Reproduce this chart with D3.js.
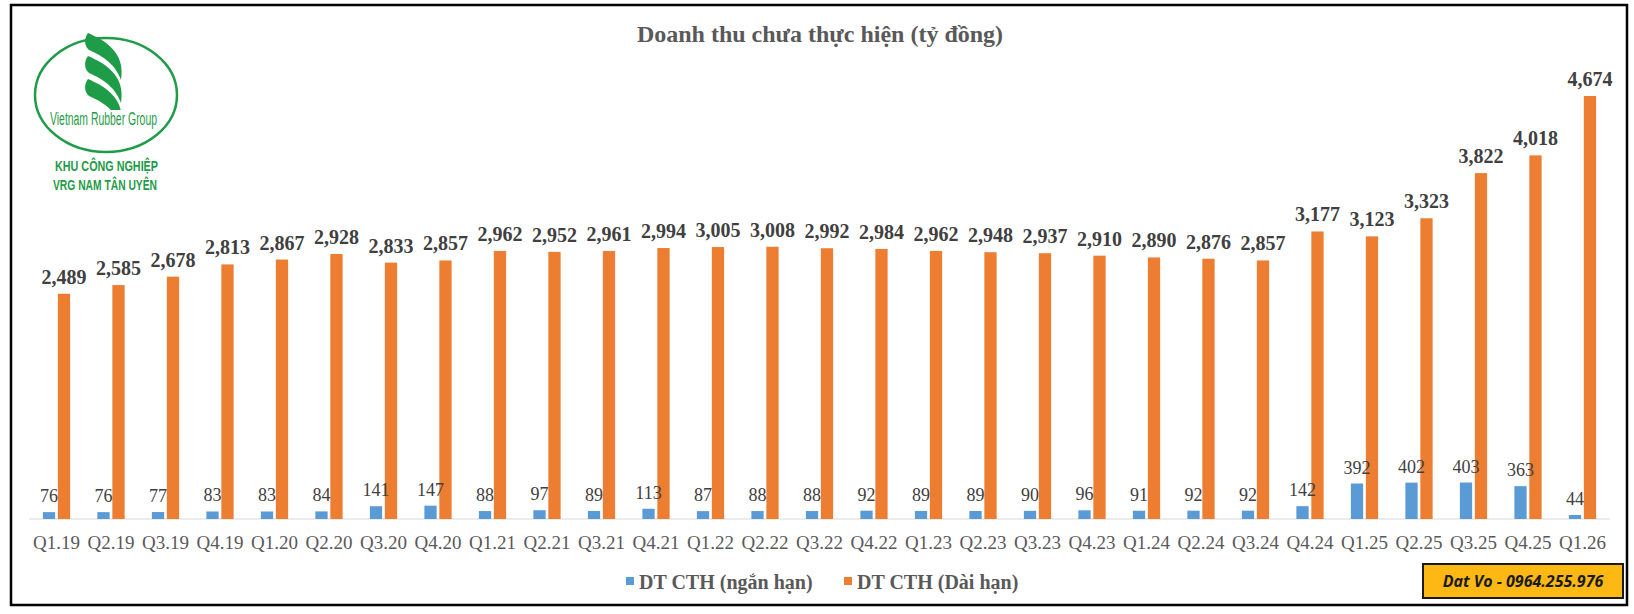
<!DOCTYPE html>
<html>
<head>
<meta charset="utf-8">
<script src="https://cdn.jsdelivr.net/npm/d3@7"></script>
<style>
  html, body { margin: 0; padding: 0; background: #fff; }
  svg { display: block; }
</style>
</head>
<body>
<svg id="chart" width="1634" height="614"></svg>
<script>
// ---- Data ----
const categories = ["Q1.19","Q2.19","Q3.19","Q4.19","Q1.20","Q2.20","Q3.20","Q4.20",
  "Q1.21","Q2.21","Q3.21","Q4.21","Q1.22","Q2.22","Q3.22","Q4.22",
  "Q1.23","Q2.23","Q3.23","Q4.23","Q1.24","Q2.24","Q3.24","Q4.24",
  "Q1.25","Q2.25","Q3.25","Q4.25","Q1.26"];
const shortTerm = [76,76,77,83,83,84,141,147,88,97,89,113,87,88,88,92,
  89,89,90,96,91,92,92,142,392,402,403,363,44];
const longTerm = [2489,2585,2678,2813,2867,2928,2833,2857,2962,2952,2961,2994,3005,3008,2992,2984,
  2962,2948,2937,2910,2890,2876,2857,3177,3123,3323,3822,4018,4674];
const seriesNames = ["DT CTH (ngắn hạn)", "DT CTH (Dài hạn)"];
const seriesColors = ["#5B9BD5", "#ED7D31"];
const titleText = "Doanh thu chưa thực hiện (tỷ đồng)";
const yMax = 5000;

// ---- Layout ----
const svg = d3.select("#chart");
const serif = "'Liberation Serif', 'Times New Roman', serif";
const plot = { left: 29.25, right: 1609.75, top: 66.5, bottom: 519 };

// outer border
svg.append("rect").attr("x", 11).attr("y", 5).attr("width", 1616).attr("height", 600)
  .attr("fill", "#fff").attr("stroke", "#000").attr("stroke-width", 2.5);

// title
svg.append("text").attr("x", 820).attr("y", 42).attr("text-anchor", "middle")
  .attr("font-family", serif).attr("font-weight", "bold").attr("font-size", 24)
  .attr("fill", "#595959").text(titleText);

// scales
const x0 = d3.scaleBand().domain(categories).range([plot.left, plot.right])
  .paddingInner(0.5).paddingOuter(0.25);
const x1 = d3.scaleBand().domain([0, 1]).range([0, x0.bandwidth()]).paddingInner(0.18);
const y = d3.scaleLinear().domain([0, yMax]).range([plot.bottom, plot.top]);

const rows = categories.map((c, i) => ({ cat: c, vals: [shortTerm[i], longTerm[i]] }));

// axis line
svg.append("line").attr("x1", plot.left).attr("x2", plot.right)
  .attr("y1", plot.bottom).attr("y2", plot.bottom)
  .attr("stroke", "#D9D9D9").attr("stroke-width", 1);

// bars
const groups = svg.append("g").selectAll("g").data(rows).join("g")
  .attr("transform", d => `translate(${x0(d.cat)},0)`);

groups.selectAll("rect").data(d => d.vals.map((v, s) => ({ v, s }))).join("rect")
  .attr("x", d => x1(d.s)).attr("width", x1.bandwidth())
  .attr("y", d => y(d.v)).attr("height", d => y(0) - y(d.v))
  .attr("fill", d => seriesColors[d.s]);

// value labels
groups.selectAll("text").data(d => d.vals.map((v, s) => ({ v, s }))).join("text")
  .attr("x", d => x1(d.s) + x1.bandwidth() / 2)
  .attr("y", d => y(d.v) - 10)
  .attr("text-anchor", "middle")
  .attr("font-family", serif)
  .attr("font-weight", d => d.s === 1 ? "bold" : "normal")
  .attr("font-size", d => d.s === 1 ? 20 : 18)
  .attr("fill", "#404040")
  .text(d => d3.format(",")(d.v));

// x axis labels
const xAxis = d3.axisBottom(x0).tickSize(0).tickPadding(0);
const ax = svg.append("g").attr("transform", `translate(0,${plot.bottom})`).call(xAxis);
ax.select(".domain").remove();
ax.selectAll("text").attr("font-family", serif).attr("font-size", 19)
  .attr("fill", "#595959").attr("dy", null).attr("y", 30);

// legend
const legendX = [626, 844];
const lg = svg.append("g").selectAll("g").data(seriesNames).join("g")
  .attr("transform", (d, i) => `translate(${legendX[i]},0)`);
lg.append("rect").attr("x", 0).attr("y", 577).attr("width", 8).attr("height", 8)
  .attr("fill", (d, i) => seriesColors[i]);
lg.append("text").attr("x", 13).attr("y", 589)
  .attr("font-family", serif).attr("font-weight", "bold").attr("font-size", 20)
  .attr("fill", "#595959").text(d => d);

// watermark box
svg.append("rect").attr("x", 1423).attr("y", 564).attr("width", 200).attr("height", 34)
  .attr("fill", "#FDB813").attr("stroke", "#1a1a1a").attr("stroke-width", 2);
svg.append("text").attr("x", 1523).attr("y", 587).attr("text-anchor", "middle")
  .attr("font-family", "'Open Sans', 'Liberation Sans', sans-serif")
  .attr("font-weight", "bold").attr("font-style", "italic").attr("font-size", 16)
  .attr("fill", "#1a1a1a").text("Dat Vo - 0964.255.976");

// logo
const green = "#1F9C48";
const logo = svg.append("g");
logo.append("ellipse").attr("cx", 106).attr("cy", 95).attr("rx", 71).attr("ry", 57)
  .attr("fill", "none").attr("stroke", green).attr("stroke-width", 2.5);
[0, 23, 46].forEach(dy => {
  logo.append("path")
    .attr("d", `M88,${33 + dy} C104,${40 + dy} 126,${52 + dy} 121,${80 + dy} C115,${62 + dy} 98,${54 + dy} 89,${50 + dy} C84,${46 + dy} 84,${38 + dy} 88,${33 + dy} Z`)
    .attr("fill", green);
});
logo.append("rect").attr("x", 48).attr("y", 110).attr("width", 112).attr("height", 17).attr("fill", "#fff");
logo.append("text").attr("x", 50).attr("y", 125).attr("textLength", 107)
  .attr("lengthAdjust", "spacingAndGlyphs")
  .attr("font-family", "'Liberation Sans Narrow', 'Liberation Sans', sans-serif")
  .attr("font-size", 18).attr("fill", green).text("Vietnam Rubber Group");
logo.append("text").attr("x", 55).attr("y", 171).attr("textLength", 103)
  .attr("lengthAdjust", "spacingAndGlyphs")
  .attr("font-family", "'Liberation Sans Narrow', 'Liberation Sans', sans-serif")
  .attr("font-weight", "bold").attr("font-size", 15).attr("fill", green).text("KHU CÔNG NGHIỆP");
logo.append("text").attr("x", 53).attr("y", 190).attr("textLength", 104)
  .attr("lengthAdjust", "spacingAndGlyphs")
  .attr("font-family", "'Liberation Sans Narrow', 'Liberation Sans', sans-serif")
  .attr("font-weight", "bold").attr("font-size", 15).attr("fill", green).text("VRG NAM TÂN UYÊN");
</script>
</body>
</html>
